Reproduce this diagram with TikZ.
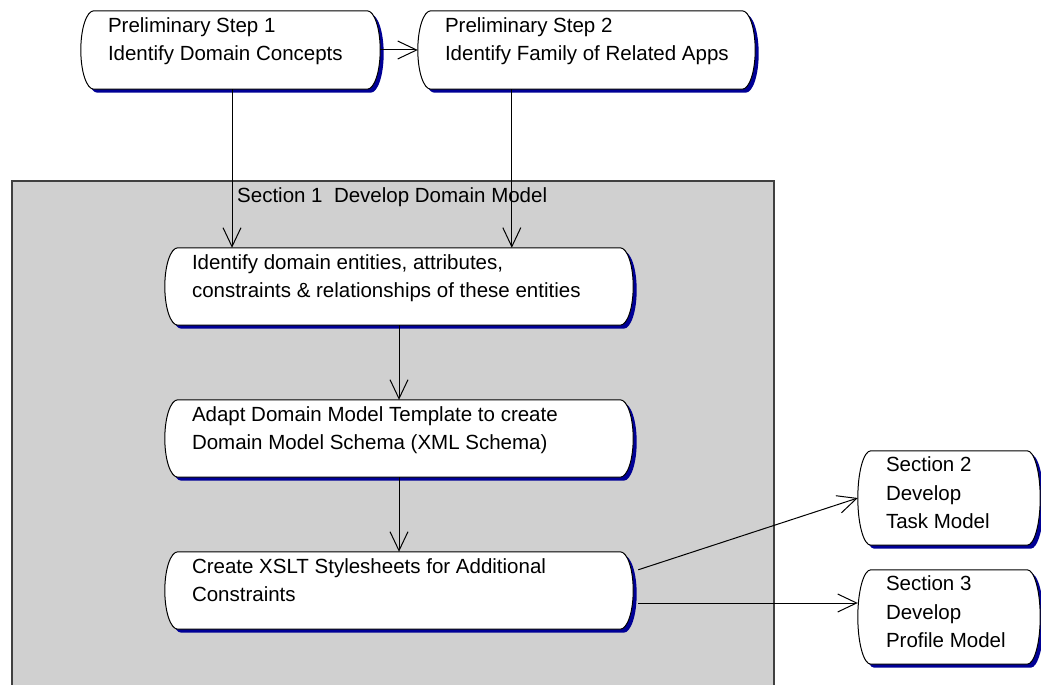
\documentclass[tikz,border=0pt]{standalone}
\usepackage{fontspec}
\setmainfont{Liberation Sans}
\usetikzlibrary{arrows.meta,calc}
\pgfdeclarelayer{bg}\pgfdeclarelayer{shp}\pgfsetlayers{bg,shp,main}
\definecolor{boxgray}{RGB}{208,208,208}
\definecolor{boxedge}{RGB}{64,64,64}
\definecolor{shadownavy}{RGB}{0,0,150}
\tikzset{
  pill/.style={rectangle, draw=none, inner sep=0pt},
  lbl/.style={font=\fontsize{20.5}{28}\selectfont, align=left, inner sep=0pt, anchor=base west},
  lbls/.style={font=\fontsize{20.5}{28.5}\selectfont, align=left, inner sep=0pt, anchor=base west},
  arr/.style={draw=black, line width=1pt, -{Straight Barb[length=19pt,width=18pt,line width=1pt]}},
}
% #1 node, #2 options, #3 x offset, #4 y offset
\newcommand\pillpath[4]{%
 \path[#2] let \p1=(#1.north west), \p2=(#1.south east), \n1={0.5*(\y1-\y2)} in
   (\x1+13pt+#3,\y1+#4) -- (\x2-13pt+#3,\y1+#4)
   arc[start angle=90,end angle=-90,x radius=13pt,y radius=\n1]
   -- (\x1+13pt+#3,\y2+#4)
   arc[start angle=270,end angle=90,x radius=13pt,y radius=\n1] -- cycle;}
\begin{document}
\begin{tikzpicture}[x=1pt,y=1pt]
\useasboundingbox (0,0) rectangle (1041,-685);
\begin{pgfonlayer}{bg}
  \fill[boxgray] (12,-181) rectangle (774,-686);
  \draw[boxedge, line width=2pt] (12,-686) -- (12,-181) -- (774,-181) -- (774,-686);
\end{pgfonlayer}
\node[pill, minimum width=299pt, minimum height=78pt] (p1) at (230.5,-50) {};
\node[pill, minimum width=337pt, minimum height=78pt] (p2) at (586.5,-50) {};
\node[pill, minimum width=468pt, minimum height=77pt] (n3) at (399,-286.5) {};
\node[pill, minimum width=468pt, minimum height=77pt] (n4) at (399,-438.5) {};
\node[pill, minimum width=468pt, minimum height=77pt] (n5) at (399,-590.5) {};
\node[pill, minimum width=182pt, minimum height=94pt] (s2) at (949,-498) {};
\node[pill, minimum width=182pt, minimum height=94pt] (s3) at (949,-617) {};
\begin{pgfonlayer}{shp}
\foreach \nn in {p1,p2,n3,n4,n5,s2,s3}{
    \pillpath{\nn}{fill=shadownavy}{3.5pt}{-3.5pt}
    \pillpath{\nn}{fill=white, draw=black, line width=1pt}{0pt}{0pt}
}
\end{pgfonlayer}
\node[lbl] (p1t) at ($(p1.north west)+(27,-50)$) {Preliminary Step 1\\Identify Domain Concepts};
\node[lbl] (p2t) at ($(p2.north west)+(27,-50)$) {Preliminary Step 2\\Identify Family of Related Apps};
\node[lbl] (n3t) at ($(n3.north west)+(27,-50)$) {Identify domain entities, attributes,\\constraints \& relationships of these entities};
\node[lbl] (n4t) at ($(n4.north west)+(27,-50)$) {Adapt Domain Model Template to create\\Domain Model Schema (XML Schema)};
\node[lbl] (n5t) at ($(n5.north west)+(27,-50)$) {Create XSLT Stylesheets for Additional\\Constraints};
\node[lbls] (s2t) at ($(s2.north west)+(28,-78)$) {Section 2\\Develop\\Task Model};
\node[lbls] (s3t) at ($(s3.north west)+(28,-78)$) {Section 3\\Develop\\Profile Model};
\node[lbl] (sec1) at (237,-202) {Section 1\ \ Develop Domain Model};
\draw[arr] (p1.east) -- (p2.west);
\coordinate (a1) at ($(p1.south)+(1.5,0)$);
\draw[arr] (a1) -- (a1 |- n3.north);
\coordinate (a2) at ($(p2.south west)+(94,0)$);
\draw[arr] (a2) -- (a2 |- n3.north);
\draw[arr] (n3.south) -- (n4.north);
\draw[arr] (n4.south) -- (n5.north);
\coordinate (a5) at ($(n5.north east)+(5,-18)$);
\draw[arr] (a5) -- (s2.west);
\coordinate (a6) at ($(s3.west)+(0,14)$);
\coordinate (a7) at ($(n5.east)+(5,0)$);
\draw[arr] (a6 -| a7) -- (a6);
\end{tikzpicture}
\end{document}
